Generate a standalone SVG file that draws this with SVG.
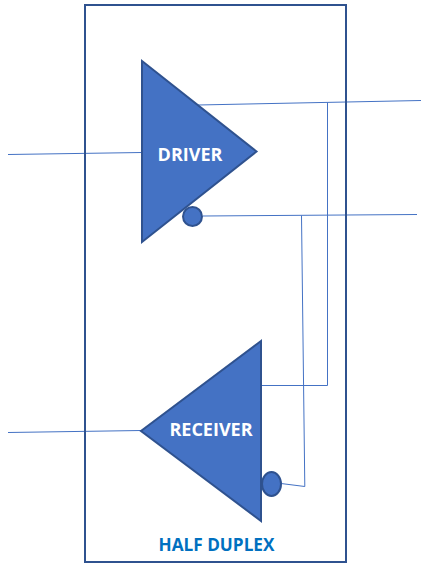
<svg xmlns="http://www.w3.org/2000/svg" width="423" height="568" viewBox="0 0 423 568">
<style>
.shape{fill:#4472c4;stroke:#2f528f;stroke-width:2}
.wire{fill:none;stroke:#4472c4;stroke-width:1}
.lbl{font-family:"Open Sans","Liberation Sans",sans-serif;font-weight:700;text-anchor:middle}
</style>
<rect width="423" height="568" fill="#fff"/>
<g id="connectors">
<path class="wire" d="M8 154.500L142 152.500"/>
<path class="wire" d="M198 105L421 100.500"/>
<path class="wire" d="M203 216L417 214.500"/>
<path class="wire" d="M327.500 102.500V385.500H262"/>
<path class="wire" d="M301.500 215.500L304.800 486.500L281 483.500"/>
<path class="wire" d="M8 432.500L141 430.500"/>
</g>
<g id="frame"><rect x="85" y="5" width="261" height="557" fill="none" stroke="#2f528f" stroke-width="2"/></g>
<g id="driver">
<path class="shape" d="M142 61L256.500 151.500L142 242Z"/>
<circle class="shape" cx="192.500" cy="216.500" r="9.500"/>
<text class="lbl" x="190" y="161" font-size="18" fill="#fff">DRIVER</text>
</g>
<g id="receiver">
<path class="shape" d="M261 341L141 431L261 521Z"/>
<ellipse class="shape" cx="271.500" cy="484" rx="9.500" ry="12"/>
<text class="lbl" x="211" y="436" font-size="18" fill="#fff">RECEIVER</text>
</g>
<g id="title"><text class="lbl" x="216.500" y="551" font-size="17.200" fill="#0070c0">HALF DUPLEX</text></g>
</svg>
